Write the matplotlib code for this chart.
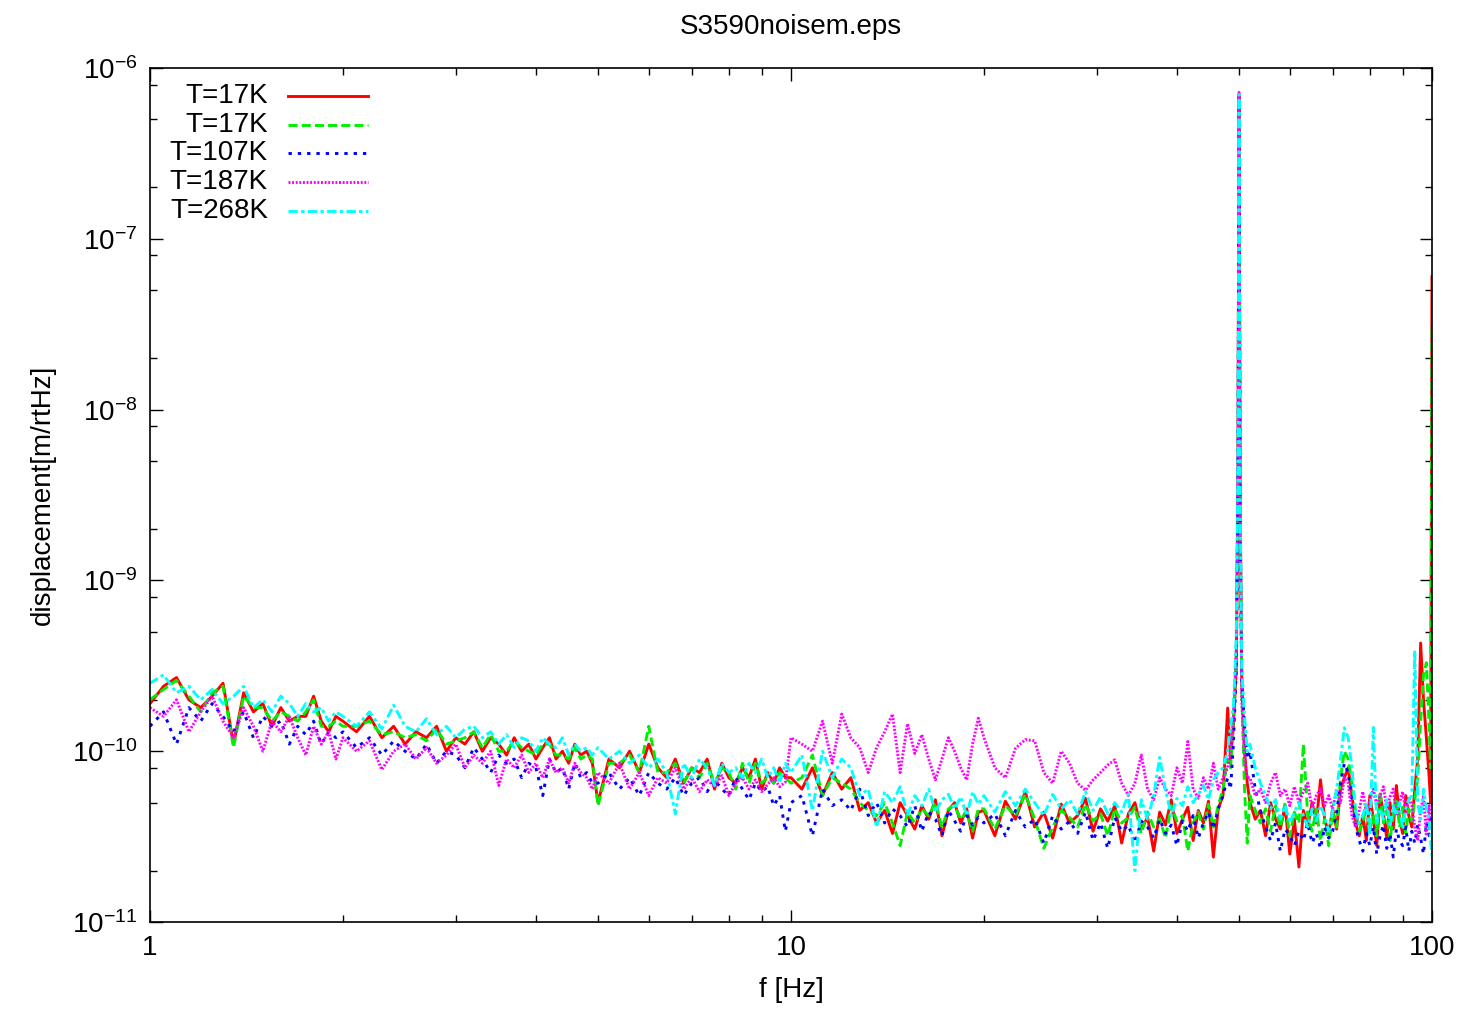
import numpy as np
import matplotlib; matplotlib.use("Agg")
import matplotlib.pyplot as plt
from matplotlib.ticker import FixedLocator, LogLocator, LogFormatterMathtext, NullFormatter

plt.rcParams["font.family"] = ["Liberation Sans", "DejaVu Sans"]
plt.rcParams["mathtext.fontset"] = "custom"
plt.rcParams["mathtext.rm"] = "Liberation Sans"
plt.rcParams["mathtext.default"] = "regular"
plt.rcParams["lines.scale_dashes"] = False

# ── spectra: frequency bins [Hz] and amplitude [1e-11 m/rtHz] ─────────
freq = [
    1.00, 1.05, 1.10, 1.15, 1.20, 1.25, 1.30, 1.35, 1.40, 1.45,
    1.50, 1.55, 1.60, 1.65, 1.70, 1.75, 1.80, 1.85, 1.90, 1.95,
    2.0, 2.1, 2.2, 2.3, 2.4, 2.5, 2.6, 2.7, 2.8, 2.9,
    3.0, 3.1, 3.2, 3.3, 3.4, 3.5, 3.6, 3.7, 3.8, 3.9,
    4.0, 4.1, 4.2, 4.3, 4.4, 4.5, 4.6, 4.7, 4.8, 4.9,
    5.0, 5.2, 5.4, 5.6, 5.8, 6.0, 6.2, 6.4, 6.6, 6.8,
    7.0, 7.2, 7.4, 7.6, 7.8, 8.0, 8.2, 8.4, 8.6, 8.8,
    9.0, 9.2, 9.4, 9.6, 9.8,
    10.0, 10.4, 10.8, 11.2, 11.6, 12.0, 12.4, 12.8, 13.2, 13.6,
    14.0, 14.4, 14.8, 15.2, 15.6, 16.0, 16.4, 16.8, 17.2, 17.6,
    18.0, 18.4, 18.8, 19.2, 19.6,
    20.0, 20.8, 21.6, 22.4, 23.2, 24.0, 24.8, 25.6, 26.4, 27.2,
    28.0, 28.8, 29.6, 30.4, 31.2, 32.0, 32.8, 33.6, 34.4, 35.2,
    36.0, 36.8, 37.6, 38.4, 39.2, 40.0, 40.8, 41.6, 42.4, 43.2,
    44.0, 44.8, 45.6, 46.4, 47.2,
    48.0, 48.5, 49.0, 49.5, 49.8, 50.0, 50.2, 50.5, 51.0, 51.5,
    52, 53, 54, 55, 56, 57, 58, 59, 60, 61,
    62, 63, 64, 65, 66, 67, 68, 69, 70, 71,
    72, 73, 74, 75, 76, 77, 78, 79, 80, 81,
    82, 83, 84, 85, 86, 87, 88, 89, 90, 91,
    92, 93, 94, 95, 96, 97, 98, 99, 99.5, 100.0,
]

amp_17k_a = [
    19, 24, 27, 20, 18, 21, 25, 11, 22, 17, 19, 14, 18, 15, 16, 16, 21, 15, 13, 16,
    15, 13, 16, 12, 14, 11, 13, 12, 14, 10, 12, 11, 13, 10, 12, 11, 9.5, 12, 10, 11,
    9, 10.5, 12, 9, 10, 8.5, 11, 9.5, 10, 8.5,
    5, 9, 8, 10, 7.5, 11, 8, 7, 9, 6.5, 8, 7.5, 9, 6, 8.5, 7, 6.5, 8, 7, 9, 6, 7.5, 6.5, 8, 7,
    7, 6, 8, 5.5, 7.5, 6, 7, 4.5, 5, 3.8, 4.5, 3.3, 5, 4.2, 3.5, 4.8, 4, 5.2, 3.2, 4.5,
    5, 3.8, 4.6, 3.1, 4.4,
    4.5, 3.2, 5.1, 4.0, 5.8, 3.6, 4.4, 3.1, 4.9, 3.8, 4.2, 5.3, 3.4, 4.6, 3.9, 4.8, 2.9, 4.3,
    5.0, 3.5, 4.1, 2.6, 4.4, 3.7, 5.2, 3.3, 4.0, 4.7, 3.0, 4.5, 3.8, 5.1, 2.4, 4.6, 5.5,
    17.9, 9, 14, 30, 300, 70000, 300, 25, 10, 6.5,
    5, 4, 4.5, 3.2, 5, 4, 3.5, 4.8, 2.5, 4, 2.1, 4.5, 3.6, 5, 3.8, 6.8, 4, 3.3, 4.6, 3.5,
    6, 7, 8, 5.5, 3.8, 3.2, 4.2, 3, 5.5, 4, 2.8, 5.6, 4.3, 3.1, 5, 3.5, 6.3, 4, 3.3, 5.5,
    4.2, 3.6, 6, 9, 43, 20, 12, 7, 5, 6000,
]
amp_17k_b = [
    20, 23, 26, 21, 17, 22, 24, 10.5, 21, 18, 18, 15, 17, 16, 15, 17, 20, 14, 14, 15,
    14, 14, 15, 12.5, 13, 12, 12.5, 11.5, 13.5, 11, 11.5, 12, 13, 10.5, 12.5, 10, 10, 11.5,
    10.5, 10, 9.5, 11, 11, 9.5, 9.5, 9, 10.5, 9, 9.5, 9,
    4.8, 8.5, 8.5, 9.5, 7.5, 14, 7.5, 7.5, 8.5, 6.5, 8, 7, 8.5, 6.5, 8, 7.5, 6, 8.5, 6.5,
    8.5, 6.5, 7, 6.5, 7.5, 7,
    6.5, 7, 9.5, 5.5, 7, 6.5, 6, 5, 4.5, 4.2, 5, 3.8, 2.8, 4.4, 3.8, 4.6, 4.2, 5, 3.6, 4.6,
    4.8, 4.0, 4.4, 3.4, 4.6,
    4.6, 3.5, 4.8, 4.2, 5.6, 4.0, 2.7, 3.6, 4.5, 4.1, 3.6, 4.9, 3.9, 4.3, 3.2, 4.6, 3.8, 4.1,
    4.7, 3.3, 4.4, 3.6, 4.0, 3.1, 4.8, 3.9, 4.2, 2.6, 3.8, 4.4, 3.5, 4.9, 3.6, 4.8, 6,
    9, 8, 15, 35, 350, 68000, 250, 22, 6, 2.9,
    5.5, 4.5, 3.8, 4.6, 3.4, 4.8, 3.6, 5, 3.2, 4.4, 3.8, 11, 4.2, 3.4, 4.6, 3, 4, 2.8, 4.4, 3.6,
    7, 10, 9, 6.5, 4.4, 3.4, 3.8, 4.8, 3.5, 4.2, 3.2, 5.8, 3.8, 4.5, 3, 4.2, 5.3, 3.6, 4.7, 3.3,
    4.6, 3.9, 5.2, 7, 15, 28, 33, 14, 8, 3000,
]
amp_107k = [
    14, 17, 11, 18, 15, 19, 16, 13, 17, 12, 16, 14, 15, 11, 14, 12.5, 15, 11, 13, 12,
    13, 10.5, 12, 9.5, 11.5, 10, 9, 11, 8.5, 10, 9.5, 8, 10.5, 9, 7.5, 9.5, 8.5, 9, 7, 8.5,
    8, 5.5, 9, 7.5, 8, 6, 8.5, 7, 7.5, 6.5,
    6.5, 7.5, 6, 7, 5.5, 7.5, 6.5, 6, 7, 5.5, 6.5, 7, 5.8, 6.8, 6, 5.5, 7, 6, 5.2, 6.5,
    5.8, 6.2, 4.8, 5.5, 3.4,
    5, 5.5, 3.2, 6, 4.8, 5.2, 4.5, 6, 4.2, 5, 3.8, 4.6, 4.2, 3.6, 4.8, 3.4, 4.4, 4, 3.2, 4.5,
    3.9, 3.4, 4.2, 3.7, 4.1,
    3.8, 4.3, 3.2, 4.5, 3.6, 4.0, 2.9, 4.2, 3.5, 3.9, 3.3, 4.4, 3.0, 3.8, 2.7, 4.1, 3.4, 3.7,
    2.9, 3.9, 3.6, 3.1, 4.0, 3.3, 3.7, 2.8, 3.9, 3.4, 4.2, 3.1, 3.8, 4.4, 3.5, 4.6, 5.5,
    7, 6, 11, 30, 280, 65000, 220, 25, 14, 9,
    10, 6, 4.5, 3.6, 3, 3.8, 2.6, 3.5, 3.2, 2.8, 3.4, 3, 3.8, 2.9, 3.3, 2.7, 3.6, 3.1, 3.4, 4.4,
    6.5, 8.5, 7.5, 5, 3.6, 3, 2.6, 3.3, 2.8, 3.6, 2.5, 3.2, 3.7, 2.7, 3.3, 2.4, 3.5, 3, 2.8, 3.6,
    2.6, 3.4, 2.9, 3.7, 3.1, 2.5, 3.8, 3.2, 4, 3.5,
]
amp_187k = [
    18, 16, 20, 13, 17, 21, 15, 12, 18, 14, 10, 15, 13, 16, 12, 9.5, 14, 11, 13, 9,
    12, 10, 11.5, 7.8, 10, 11, 9, 10.5, 8.5, 9.5, 11, 8, 9.5, 8.5, 10, 6.3, 9, 8, 9.5, 7.5,
    8.5, 7, 9, 7.5, 8, 6.5, 8.5, 7.5, 7, 6,
    7.5, 6.5, 8.5, 6, 7.5, 5.5, 7, 6.5, 8, 6, 7, 5.8, 6.8, 6.2, 7.2, 5.5, 6.5, 7, 6, 6.8,
    5.8, 6.4, 7, 6.2, 6.6,
    12, 11, 10, 15, 8.5, 16.5, 12, 10.5, 7.5, 10.5, 13, 16.5, 7.5, 14.5, 9.7, 12.5, 9, 6.8,
    9, 12, 10, 8, 6.8, 11, 15.6,
    12, 8, 7, 10.4, 11.7, 11.5, 7.5, 6.5, 10, 8.5, 6.5, 5.9, 6.8, 7.5, 8.3, 8.9, 6.5, 5.5,
    6.5, 9.5, 6, 5.2, 7, 6, 5.5, 8, 6.5, 11.4, 6, 5.3, 7, 6, 8.5, 6, 7,
    8, 10, 15, 40, 400, 72000, 300, 20, 9, 7,
    7, 5.5, 6, 5, 6.5, 7.5, 5.5, 6, 4.8, 6.2, 5, 5.8, 6.5, 4.6, 5.5, 6, 4.8, 5.5, 4.6, 6,
    5, 7, 6.5, 4.2, 3.6, 4.5, 5.8, 4.4, 5.2, 6, 4.8, 5.5, 6.2, 4.6, 5.4, 6, 4.2, 5, 5.8, 4.4,
    5.4, 4.8, 3.6, 3, 4.5, 5.5, 3.2, 4.8, 3.5, 3.5,
]
amp_268k = [
    25, 28, 22, 24, 20, 23, 19, 21, 24, 18, 20, 17, 21, 19, 16, 19, 17, 18, 15, 17,
    16, 14, 17, 13.5, 18.6, 14, 13, 15.5, 12.5, 14, 12, 13.5, 14, 12, 13, 11, 12.5, 10.5,
    12, 11.5, 10, 12, 11, 10.5, 12, 9.5, 11, 10, 10.5, 9.5,
    10.5, 9, 10, 8.5, 9.5, 8, 9, 7.5, 4.3, 8.5, 7, 9, 8, 6.3, 8.5, 7.5, 8, 7, 8.5, 7.5,
    9, 7, 8, 6.5, 8.5,
    7.5, 9.5, 4.5, 10, 7, 9, 8, 5.5, 6, 3.6, 5.8, 5, 6.2, 4.2, 5.5, 4.8, 6, 4.4, 5.2, 5.6,
    4.6, 5.4, 4.2, 5.8, 4.9,
    5.5, 4.4, 5.8, 4.8, 6, 5, 4.2, 5.6, 4.6, 5.2, 4.3, 5.8, 4.5, 5.4, 4.3, 5.0, 4.4, 5.6,
    2.0, 5.2, 4.0, 5.5, 9.2, 5.9, 4.2, 5.3, 4.8, 6.2, 5.0, 5.6, 6.3, 5.2, 6.8, 7.5, 8,
    10, 14, 18, 45, 420, 70000, 320, 30, 16, 10,
    11, 8, 6.5, 5.5, 4.6, 5.2, 4, 4.8, 3.8, 4.4, 5, 4.2, 3.6, 4.6, 3.9, 4.8, 4.2, 3.4, 4.5, 6,
    9, 13.7, 12, 8, 4.5, 3.8, 4.2, 5, 3.2, 13.8, 3.8, 4.6, 4, 5.2, 3.6, 4.8, 4.2, 5, 3.5, 4.6,
    5.2, 5.5, 39, 5, 4, 6, 4.6, 4, 3, 2.4,
]

labels = ["T=17K", "T=17K", "T=107K", "T=187K", "T=268K"]
colors = ["#ff0000", "#00ee00", "#0000ff", "#ff00ff", "#00ffff"]
styles = ["-", (0, (6.5, 3)), (0, (2.4, 4.3)), (0, (1.4, 1.2)), (0, (6.7, 2.4, 2.4, 2.4))]
series = [amp_17k_a, amp_17k_b, amp_107k, amp_187k, amp_268k]

f = np.array(freq)
fig = plt.figure(figsize=(14.66, 10.14), dpi=100)
ax = fig.add_axes([0.1023, 0.0907, 0.8745, 0.8422])

for amp, col, ls in zip(series, colors, styles):
    assert len(amp) == len(f)
    ax.plot(f, np.array(amp) * 1e-11, color=col, ls=ls, lw=2.1)

ax.set_xscale("log")
ax.set_yscale("log")
ax.set_xlim(1, 100)
ax.set_ylim(1e-11, 1e-6)

ax.xaxis.set_major_locator(FixedLocator([1, 10, 100]))
ax.xaxis.set_minor_locator(LogLocator(base=10, subs=np.arange(2, 10)))
ax.xaxis.set_minor_formatter(NullFormatter())
ax.xaxis.set_major_formatter(plt.FuncFormatter(lambda v, p: f"{v:g}"))
ax.yaxis.set_major_locator(FixedLocator([1e-11, 1e-10, 1e-9, 1e-8, 1e-7, 1e-6]))
ax.yaxis.set_minor_locator(LogLocator(base=10, subs=(2, 5, 8), numticks=20))
ax.yaxis.set_minor_formatter(NullFormatter())
ax.yaxis.set_major_formatter(LogFormatterMathtext())

ax.tick_params(which="both", direction="in", top=True, right=True, width=1.0,
               labelsize=20, colors="black")
ax.tick_params(which="major", length=9, pad=9)
ax.tick_params(which="minor", length=5)
for s in ax.spines.values():
    s.set_linewidth(1.2)

ax.set_xlabel("f [Hz]", fontsize=20, labelpad=12)
ax.set_ylabel("displacement[m/rtHz]", fontsize=20, labelpad=12)
fig.text(0.5395, 0.973, "S3590noisem.eps", ha="center", va="center", fontsize=20)

# gnuplot-style key: right-aligned labels followed by line samples
key_y = [0.967, 0.933, 0.9005, 0.8665, 0.8326]
for lab, col, ls, ky in zip(labels, colors, styles, key_y):
    ax.text(0.092, ky, lab, transform=ax.transAxes, ha="right", va="center", fontsize=20)
    ax.plot([0.1076, 0.170], [ky, ky], transform=ax.transAxes, color=col, ls=ls, lw=2.1)

fig.savefig("out.png", dpi=100, facecolor="white")
plt.close(fig)
